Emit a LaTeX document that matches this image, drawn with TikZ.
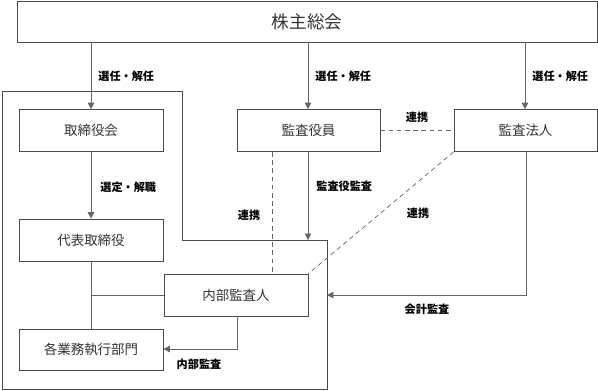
\documentclass[tikz,border=0pt]{standalone}
\usepackage{fontspec}
\newfontfamily\jpfont{Noto Sans CJK JP}
\usetikzlibrary{arrows.meta}
\definecolor{cLine}{HTML}{666666}
\definecolor{cEdge}{HTML}{4A4A4A}
\definecolor{ink}{HTML}{333333}

\begin{document}
\begin{tikzpicture}[
  x=0.03cm, y=-0.03cm,
  >={Triangle[length=5.5pt, width=5.5pt]},
  font=\jpfont,
  org/.style={
    draw=cEdge, line width=0.6pt, fill=white, text=ink,
    minimum width=#1*0.03cm, minimum height=42*0.03cm,
    inner sep=0pt, font=\jpfont\fontsize{11.5}{13}\selectfont,
  },
  org/.default=144,
  lbl/.style={font=\jpfont\bfseries\fontsize{9.5}{11}\selectfont, text=black, inner sep=1pt},
  arr/.style={->, line width=0.6pt, color=cLine},
  link/.style={line width=0.6pt, color=cLine},
  coop/.style={line width=0.6pt, color=cLine, dash pattern=on 4pt off 3pt},
]
  \useasboundingbox (0,0) rectangle (598,390);

  % --- company outline ---
  \coordinate (c1) at (2,91);
  \coordinate (c2) at (182,91);
  \coordinate (c3) at (182,240);
  \coordinate (c4) at (327,240);
  \coordinate (c5) at (327,389);
  \coordinate (c6) at (2,389);
  \draw[link, color=cEdge] (c1) -- (c2) -- (c3) -- (c4) -- (c5) -- (c6) -- cycle;

  % --- bodies ---
  \node[org=580, minimum height=41*0.03cm, font=\jpfont\fontsize{15}{17}\selectfont] (gm) at (307,21.5) {株主総会};
  \node[org] (bod)  at (91,130.5)   {取締役会};
  \node[org=143] (aud)  at (308.5,130.5) {監査役員};
  \node[org=143] (firm) at (525.5,130.5) {監査法人};
  \node[org] (rep)  at (91,240)     {代表取締役};
  \node[org] (ia)   at (236,295)    {内部監査人};
  \node[org, minimum height=41*0.03cm] (ops) at (91,349.5) {各業務執行部門};

  % --- appointment by the general meeting ---
  \foreach \tgt/\x in {bod/91, aud/308, firm/525}{
    \draw[arr] (gm.south -| \x,0) -- (\tgt.north -| \x,0);
    \node[lbl, anchor=west] (sel-\tgt) at (\x+6,76) {選任・解任};
  }

  % --- executive line ---
  \draw[arr] (bod) -- (rep);
  \node[lbl, anchor=west] (selrep) at (99,187) {選定・解職};
  \draw[link] (rep) -- (ops);
  \coordinate (j1) at (91,295);
  \draw[link] (j1) -- (ia.west);
  \coordinate (j2) at (237,349);
  \draw[arr] (ia.south -| j2) -- (j2) -- (ops.east |- j2);
  \node[lbl] (iaud) at (199,364) {内部監査};

  % --- audits ---
  \coordinate (t1) at (308,240);
  \draw[arr] (aud.south -| t1) -- (t1);
  \node[lbl, anchor=west] (kaud) at (315,186) {監査役監査};
  \coordinate (t2) at (526,295);
  \draw[arr] (firm.south -| t2) -- (t2) -- (c4 |- t2);
  \node[lbl] (acc) at (427,309) {会計監査};

  % --- cooperation ---
  \draw[coop] (aud) -- (firm);
  \node[lbl] (co1) at (417,117) {連携};
  \coordinate (d1) at (272,152);
  \draw[coop] (d1) -- (ia.north -| d1);
  \node[lbl] (co2) at (249,215) {連携};
  \draw[coop] (firm.south west) -- (ia.north east);
  \node[lbl] (co3) at (418,213) {連携};
\end{tikzpicture}
\end{document}
